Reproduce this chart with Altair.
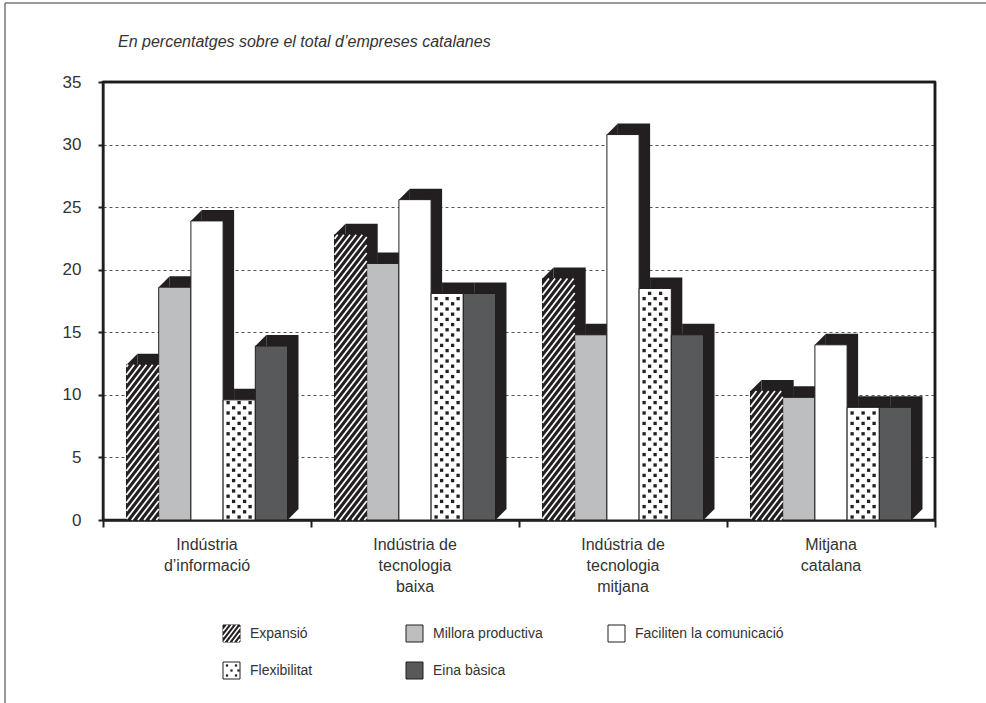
import altair as alt
import numpy as np
import pandas as pd

# ---------------------------------------------------------------- data
categories = [
    "Indústria\nd’informació",
    "Indústria de\ntecnologia\nbaixa",
    "Indústria de\ntecnologia\nmitjana",
    "Mitjana\ncatalana",
]
series = [
    "Expansió",
    "Millora productiva",
    "Faciliten la comunicació",
    "Flexibilitat",
    "Eina bàsica",
]
expansio = [12.4, 22.8, 19.3, 10.3]
millora = [18.6, 20.5, 14.8, 9.8]
faciliten = [23.9, 25.6, 30.8, 14.0]
flexibilitat = [9.6, 18.1, 18.5, 9.0]
eina = [13.9, 18.1, 14.8, 9.0]
y_ticks = [0, 5, 10, 15, 20, 25, 30, 35]
subtitle = "En percentatges sobre el total d’empreses catalanes"

values = [expansio, millora, faciliten, flexibilitat, eina]
fills = ["#231f20", "#bcbec0", "#ffffff", "#ffffff", "#58595b"]
INK = "#231f20"
TEXT = "#333333"
FONT = "Liberation Sans"

# ---------------------------------------------------------------- layout
W, H = 832, 438
Y_MAX = 35
N_GROUPS = len(categories)
PX_X = W / N_GROUPS          # pixels per category unit
PX_Y = H / Y_MAX             # pixels per percentage point
BAR = 32.2 / PX_X            # bar width in category units
MARGIN = (1 - len(series) * BAR) / 2
DEPTH = 11                   # 3-D extrusion in pixels
DX, DY = DEPTH / PX_X, DEPTH / PX_Y


def dx_px(px):
    """horizontal pixel offset from the plot's left edge -> category units"""
    return px / PX_X


def dy_px(py):
    """vertical pixel offset below the plot's top edge -> value units"""
    return (H - py) / PX_Y


# front faces
bars = []
for g in range(N_GROUPS):
    for s, name in enumerate(series):
        x0 = g + MARGIN + s * BAR
        bars.append(dict(bar=f"{g}-{s}", series=name, x=x0, x2=x0 + BAR,
                         y=values[s][g], y0=0.0))
bars = pd.DataFrame(bars)

# extrusion: the face pushed back (up and right) plus two bevel corners
depth_rect = pd.DataFrame(dict(x=bars.x + DX, x2=bars.x2 + DX,
                               y=bars.y + DY, y2=DY))
bevel_top = pd.DataFrame(dict(x=bars.x + DX / 2, y=bars.y + DY / 2))
bevel_bottom = pd.DataFrame(dict(x=bars.x2 + DX / 2, y=DY / 2))

# diagonal hatching for "Expansió"
SLOPE, STEP = 1.3, 8.0
hatch = []
for r in bars[bars.series == series[0]].itertuples():
    w, h = BAR * PX_X, r.y * PX_Y
    for c in np.arange(-SLOPE * w + 3, h, STEP):
        xs, xe = max(0.0, -c / SLOPE), min(w, (h - c) / SLOPE)
        if xe - xs > 0.8:
            hatch.append(dict(x=r.x + xs / PX_X, y=(SLOPE * xs + c) / PX_Y,
                              x2=r.x + xe / PX_X, y2=(SLOPE * xe + c) / PX_Y))
hatch = pd.DataFrame(hatch)

# dot screen for "Flexibilitat"
dots = []
for r in bars[bars.series == series[3]].itertuples():
    h = r.y * PX_Y
    for i, yy in enumerate(np.arange(3.0, h - 2.0, 5.2)):
        offs = [5.0, 16.0, 27.0] if i % 2 == 0 else [10.5, 21.5]
        for o in offs:
            dots.append(dict(x=r.x + o / PX_X, y=yy / PX_Y))
dots = pd.DataFrame(dots)

cat_df = pd.DataFrame(dict(label=categories,
                           x=[g + 0.5 for g in range(N_GROUPS)]))

# top and right edges of the plot box, a hair inside the domain
top_edge = pd.DataFrame(dict(y=[Y_MAX - 1e-3]))
right_edge = pd.DataFrame(dict(x=[N_GROUPS - 1e-4]))
# thin outer frame of the figure
outer = pd.DataFrame(dict(
    x=[dx_px(-98), dx_px(-98)], x2=[dx_px(-98), dx_px(W + 60)],
    y=[dy_px(-79), dy_px(-79)], y2=[dy_px(H + 183), dy_px(-79)]))
title_df = pd.DataFrame(dict(text=[subtitle], x=[dx_px(15)], y=[dy_px(-35)]))

# legend block under the plot (pixel layout converted to the data scales)
LEG_X = [120, 303, 505]
LEG_Y = [543, 580]
SYM = 17
leg = []
for i, name in enumerate(series):
    lx, ly = LEG_X[i % 3], LEG_Y[i // 3]
    leg.append(dict(series=name, x=dx_px(lx), x2=dx_px(lx + SYM),
                    y=dy_px(ly), y2=dy_px(ly + SYM),
                    tx=dx_px(lx + 27), ty=dy_px(ly + SYM / 2)))
leg = pd.DataFrame(leg)

leg_hatch = []
lx, ly = LEG_X[0], LEG_Y[0]
for c in np.arange(-SLOPE * SYM + 3, SYM, 6.0):
    xs, xe = max(0.0, -c / SLOPE), min(SYM, (SYM - c) / SLOPE)
    if xe - xs > 0.8:
        leg_hatch.append(dict(x=dx_px(lx + xs), y=dy_px(ly + SYM - (SLOPE * xs + c)),
                              x2=dx_px(lx + xe), y2=dy_px(ly + SYM - (SLOPE * xe + c))))
leg_hatch = pd.DataFrame(leg_hatch)

leg_dots = []
lx, ly = LEG_X[0], LEG_Y[1]
for i, yy in enumerate([3.5, 8.5, 13.5]):
    offs = [4.0, 13.0] if i % 2 == 0 else [8.5, 15.5]
    for o in offs:
        leg_dots.append(dict(x=dx_px(lx + o), y=dy_px(ly + yy)))
leg_dots = pd.DataFrame(leg_dots)

# ---------------------------------------------------------------- chart
xs = alt.Scale(domain=[0, N_GROUPS], nice=False, zero=False)
ys = alt.Scale(domain=[0, Y_MAX], nice=False)
fill_scale = alt.Scale(domain=series, range=fills)

x_axis = alt.Axis(values=list(range(N_GROUPS + 1)), labels=False, grid=False,
                  title=None, tickSize=7, tickWidth=2, tickColor=INK,
                  domainColor=INK, domainWidth=2.5)
y_axis = alt.Axis(values=y_ticks, title=None, grid=True, gridDash=[3, 3],
                  gridColor="#555555", gridWidth=1, tickSize=5, tickWidth=2,
                  tickColor=INK, domainColor=INK, domainWidth=2,
                  labelFontSize=17, labelColor=TEXT, labelFont=FONT,
                  labelPadding=17)


def X(field="x"):
    return alt.X(f"{field}:Q", scale=xs, axis=x_axis)


def Y(field="y"):
    return alt.Y(f"{field}:Q", scale=ys, axis=y_axis)


depth_layer = alt.Chart(depth_rect).mark_rect(color=INK).encode(
    x=X(), x2="x2:Q", y=Y(), y2="y2:Q",
)
# right triangles filling the two bevelled corners of each extrusion
bevel_top_layer = alt.Chart(bevel_top).mark_point(
    shape="M-1,1L1,-1L1,1Z", filled=True, color=INK, opacity=1,
    size=DEPTH * DEPTH, strokeWidth=0,
).encode(x=X(), y=Y())
bevel_bottom_layer = alt.Chart(bevel_bottom).mark_point(
    shape="M-1,1L1,-1L-1,-1Z", filled=True, color=INK, opacity=1,
    size=DEPTH * DEPTH, strokeWidth=0,
).encode(x=X(), y=Y())

front_layer = alt.Chart(bars).mark_rect(stroke=INK, strokeWidth=1).encode(
    x=X(), x2="x2:Q",
    y=Y(), y2="y0:Q",
    fill=alt.Fill("series:N", scale=fill_scale, legend=None),
)

hatch_layer = alt.Chart(hatch).mark_rule(color="white", strokeWidth=1.7,
                                         strokeCap="butt").encode(
    x=X(), x2="x2:Q", y=Y(), y2="y2:Q",
)

dot_layer = alt.Chart(dots).mark_square(color=INK, size=11, opacity=1).encode(
    x=X(), y=Y(),
)

top_edge_layer = alt.Chart(top_edge).mark_rule(color="#1a1a1a", strokeWidth=2.5).encode(
    y=Y(),
)
right_edge_layer = alt.Chart(right_edge).mark_rule(color="#1a1a1a", strokeWidth=2.5).encode(
    x=X(),
)

outer_layer = alt.Chart(outer).mark_rule(color="#777777", strokeWidth=1.5).encode(
    x=X(), x2="x2:Q", y=Y(), y2="y2:Q",
)

title_layer = alt.Chart(title_df).mark_text(
    fontSize=16, font=FONT, fontStyle="italic", color=TEXT,
    align="left", baseline="alphabetic",
).encode(x=X(), y=Y(), text="text:N")

cat_layer = alt.Chart(cat_df).mark_text(
    fontSize=16, font=FONT, color=TEXT, baseline="middle", align="center",
    lineBreak="\n", lineHeight=21,
).encode(x=X(), y=alt.value(H + 25), text="label:N")

leg_sym = alt.Chart(leg).mark_rect(stroke=INK, strokeWidth=1).encode(
    x=X(), x2="x2:Q", y=Y(), y2="y2:Q",
    fill=alt.Fill("series:N", scale=fill_scale, legend=None),
)
leg_hatch_layer = alt.Chart(leg_hatch).mark_rule(color="white", strokeWidth=1.6).encode(
    x=X(), x2="x2:Q", y=Y(), y2="y2:Q",
)
leg_dot_layer = alt.Chart(leg_dots).mark_square(color=INK, size=5, opacity=1).encode(
    x=X(), y=Y(),
)
leg_text = alt.Chart(leg).mark_text(
    fontSize=14, font=FONT, color=TEXT, align="left", baseline="middle",
).encode(x=X("tx"), y=Y("ty"), text="series:N")

chart = alt.layer(
    outer_layer, title_layer,
    depth_layer, bevel_top_layer, bevel_bottom_layer,
    front_layer, hatch_layer, dot_layer,
    top_edge_layer, right_edge_layer,
    cat_layer,
    leg_sym, leg_hatch_layer, leg_dot_layer, leg_text,
).properties(
    width=W, height=H,
    autosize=alt.AutoSizeParams(type="none"),
    padding={"left": 103, "top": 82, "right": 51, "bottom": 183},
).configure_view(
    stroke=INK, strokeWidth=2.5,
)

chart.save("out.html", embed_options={"renderer": "svg", "actions": False})
